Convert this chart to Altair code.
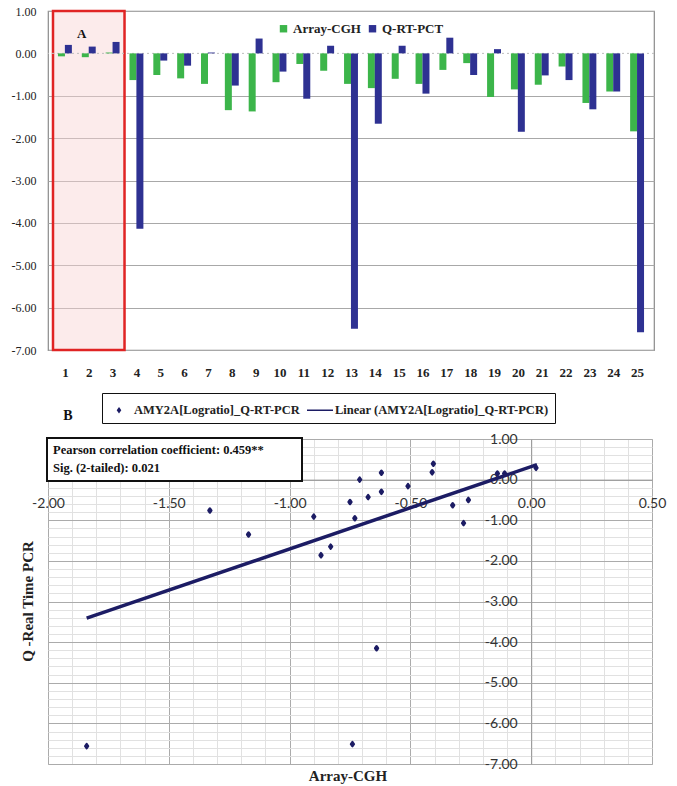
import altair as alt
import pandas as pd

# ---------------- Panel A data ----------------
samples = list(range(1, 26))
array_cgh = [-0.07, -0.09, 0.02, -0.63, -0.51, -0.59, -0.72, -1.34, -1.37, -0.68,
             -0.25, -0.41, -0.72, -0.82, -0.60, -0.72, -0.39, -0.23, -1.03, -0.85,
             -0.74, -0.31, -1.17, -0.90, -1.84]
q_rt_pct = [0.20, 0.16, 0.27, -4.14, -0.17, -0.29, 0.02, -0.76, 0.35, -0.43,
            -1.07, 0.18, -6.50, -1.66, 0.18, -0.95, 0.37, -0.51, 0.10, -1.85,
            -0.52, -0.63, -1.32, -0.90, -6.58]
series_names = ["Array-CGH", "Q-RT-PCT"]
highlight_start = [0.5]
highlight_end = [3.5]
y_ticks_a = [-7, -6, -5, -4, -3, -2, -1, 0, 1]

# ---------------- Panel B data ----------------
scatter_cgh = [-1.33, -1.17, -0.90, -0.87, -0.83, -0.75, -0.73, -0.71, -0.675, -0.62,
               -0.62, -0.51, -0.405, -0.41, -0.325, -0.26, -0.28, -0.14, -0.11, 0.02,
               -1.84, -0.74, -0.64]
scatter_pcr = [-0.76, -1.35, -0.91, -1.86, -1.65, -0.55, -0.95, 0.00, -0.43, 0.17,
               -0.30, -0.16, 0.39, 0.18, -0.63, -0.50, -1.07, 0.15, 0.15, 0.29,
               -6.56, -6.51, -4.15]
trend_cgh = [-1.84, 0.024]
trend_pcr = [-3.41, 0.37]
legend_names = ["AMY2A[Logratio]_Q-RT-PCR", "Linear (AMY2A[Logratio]_Q-RT-PCR)"]
x_ticks_b = [-2.0, -1.5, -1.0, -0.5, 0.0, 0.5]
y_ticks_b = [-7, -6, -5, -4, -3, -2, -1, 0, 1]
minor_x_b = [round(-2 + 0.1 * i, 1) for i in range(26)]
minor_y_b = [round(-7 + 0.2 * i, 1) for i in range(41)]
stats_text = ["Pearson correlation coefficient: 0.459**", "Sig. (2-tailed): 0.021"]

# ---------------- styles ----------------
GREEN = "#3cb54a"
BLUE = "#2e3192"
NAVY = "#1c1c64"
SERIF = "Liberation Serif"
SANS = "Lato"
MINUS_FIX = "replace(format(datum.value, '.2f'), '\u2212', '-')"

W1, H1 = 606, 339
W2, H2 = 604, 325

# ================= Panel A =================
xs1 = alt.Scale(domain=[0.5, 25.5], nice=False, zero=False)
ys1 = alt.Scale(domain=[-7, 1], nice=False, zero=False)

x_axis_a = alt.Axis(
    values=samples, format="d", labelAngle=0, grid=False, domain=False,
    ticks=False, tickSize=0, labelPadding=16, labelFont=SERIF, labelFlush=False,
    labelFontSize=13, labelFontWeight="bold", labelColor="#222", title=None)
y_axis_a = alt.Axis(
    values=y_ticks_a, labelExpr=MINUS_FIX, grid=True,
    gridColor={"condition": {"test": "datum.value === 0", "value": "rgba(0,0,0,0)"},
               "value": "#a8a8a8"},
    domain=False, ticks=False, tickSize=0, labelPadding=12, labelFont=SERIF,
    labelFontSize=12, labelColor="#222", title=None)

bars_df = pd.DataFrame({
    "sample": samples * 2,
    "series": [series_names[0]] * 25 + [series_names[1]] * 25,
    "value": array_cgh + q_rt_pct,
})
box_df = pd.DataFrame({"x0": highlight_start, "x1": highlight_end,
                       "y0": [max(y_ticks_a)], "y1": [min(y_ticks_a)]})

box = alt.Chart(box_df).mark_rect(
    fill="#f9d2d2", fillOpacity=0.45, stroke="#e02424", strokeWidth=2.5
).encode(
    x=alt.X("x0:Q", scale=xs1, axis=x_axis_a),
    x2="x1:Q",
    y=alt.Y("y0:Q", scale=ys1, axis=y_axis_a),
    y2="y1:Q",
)

zero_df = pd.DataFrame({"z": [0]})
zero_rule = alt.Chart(zero_df).mark_rule(color="#bdbdbd", strokeDash=[2, 3], strokeWidth=1).encode(
    y=alt.Y("z:Q", scale=ys1, axis=y_axis_a),
)

bars = alt.Chart(bars_df).transform_calculate(
    pos="datum.sample + (datum.series == 'Array-CGH' ? -0.145 : 0.145)"
).mark_bar(width=7).encode(
    x=alt.X("pos:Q", scale=xs1, axis=x_axis_a),
    y=alt.Y("value:Q", scale=ys1, axis=y_axis_a),
    color=alt.Color("series:N", scale=alt.Scale(domain=series_names, range=[GREEN, BLUE]),
                    legend=alt.Legend(orient="none", legendX=229, legendY=11,
                                      direction="horizontal", title=None,
                                      symbolType="square", symbolSize=55,
                                      symbolStrokeWidth=0, padding=0,
                                      labelFont=SERIF, labelFontSize=13,
                                      labelFontWeight="bold", labelColor="#222",
                                      columnPadding=5, labelOffset=3)),
)

a_df = pd.DataFrame({"x": [1.7], "y": [0.46], "t": ["A"]})
a_text = alt.Chart(a_df).mark_text(font=SERIF, fontSize=13, fontWeight="bold",
                                   color="#111").encode(
    x=alt.X("x:Q", scale=xs1, axis=x_axis_a),
    y=alt.Y("y:Q", scale=ys1, axis=y_axis_a),
    text="t:N",
)

top = alt.layer(box, zero_rule, bars, a_text).properties(
    width=W1, height=H1, view=alt.ViewBackground(stroke="#8a8a8a", strokeWidth=1.2))

# ================= Panel B =================
xs2 = alt.Scale(domain=[-2, 0.5], nice=False, zero=False)
ys2 = alt.Scale(domain=[-7, 1], nice=False, zero=False)

pts_df = pd.DataFrame({"cgh": scatter_cgh, "pcr": scatter_pcr,
                       "s": [legend_names[0]] * len(scatter_cgh)})
trend_df = pd.DataFrame({"tx": trend_cgh, "ty": trend_pcr})

grid_layer = alt.Chart(pts_df).mark_point(opacity=0).encode(
    x=alt.X("cgh:Q", scale=xs2, axis=alt.Axis(
        orient="bottom", values=minor_x_b, grid=True, labels=False, ticks=False,
        domain=False, title=None,
        gridColor={"condition": {"test": "abs(round(datum.value*10)) % 5 === 0",
                                 "value": "#ababab"}, "value": "#e1e1e1"})),
    y=alt.Y("pcr:Q", scale=ys2, axis=alt.Axis(
        orient="left", values=minor_y_b, grid=True, labels=False, ticks=False,
        domain=False, title=None,
        gridColor={"condition": {"test": "abs(round(datum.value*5)) % 5 === 0",
                                 "value": "#ababab"}, "value": "#e1e1e1"})),
)

x_axis_offset = -(0 - ys2.domain[0]) / (ys2.domain[1] - ys2.domain[0]) * H2
y_axis_offset = -(0 - xs2.domain[0]) / (xs2.domain[1] - xs2.domain[0]) * W2

DIAMOND = "M0,-0.2L0.14,0L0,0.2L-0.14,0Z"
LINE_SYM = "M-1.3,0L1.3,0"

points = alt.Chart(pts_df).mark_point(
    filled=False, fill=NAVY, fillOpacity=1, stroke=NAVY, strokeWidth=2.5,
    strokeJoin="round", size=400, opacity=1
).encode(
    x=alt.X("cgh:Q", scale=xs2, axis=alt.Axis(
        orient="bottom", offset=x_axis_offset, values=x_ticks_b, labelExpr=MINUS_FIX,
        grid=False, ticks=False, tickSize=0, domain=True, domainColor="#9a9a9a",
        labelFlush=False, labelOverlap=False,
        labelPadding=17, labelFont=SANS, labelFontSize=14, labelColor="#333",
        title=None)),
    y=alt.Y("pcr:Q", scale=ys2, axis=alt.Axis(
        orient="left", offset=y_axis_offset, values=y_ticks_b, labelExpr=MINUS_FIX,
        grid=False, ticks=False, tickSize=0, domain=True, domainColor="#9a9a9a",
        labelFlush=False, labelOverlap=False,
        labelPadding=14, labelFont=SANS, labelFontSize=14, labelColor="#333",
        title=None)),
    shape=alt.Shape("s:N", scale=alt.Scale(domain=legend_names, range=[DIAMOND, LINE_SYM]),
                    legend=alt.Legend(orient="none", legendX=54, legendY=-46,
                                      direction="horizontal", title=None,
                                      strokeColor="#111", padding=6,
                                      symbolSize=400,
                                      labelFont=SERIF, labelFontSize=12.5,
                                      labelFontWeight="bold", labelColor="#222",
                                      labelLimit=500, columnPadding=4, labelOffset=4)),
)

trend = alt.Chart(trend_df).mark_line(color=NAVY, strokeWidth=3.5).encode(
    x=alt.X("tx:Q", scale=xs2, axis=None),
    y=alt.Y("ty:Q", scale=ys2, axis=None),
)

ann_df = pd.DataFrame({"l1": [stats_text[0]], "l2": [stats_text[1]]})
stat_box = alt.Chart(ann_df).mark_rect(fill="white", stroke="#111", strokeWidth=2).encode(
    x=alt.value(-1), x2=alt.value(254), y=alt.value(-1), y2=alt.value(42))
stat_l1 = alt.Chart(ann_df).mark_text(align="left", baseline="middle", font=SERIF,
                                      fontSize=12.5, fontWeight="bold", color="#111").encode(
    x=alt.value(5), y=alt.value(11), text="l1:N")
stat_l2 = alt.Chart(ann_df).mark_text(align="left", baseline="middle", font=SERIF,
                                      fontSize=12.5, fontWeight="bold", color="#111").encode(
    x=alt.value(5), y=alt.value(29), text="l2:N")
b_label = alt.Chart(ann_df).mark_text(font=SERIF, fontSize=14, fontWeight="bold",
                                      color="#111").encode(
    x=alt.value(20), y=alt.value(-23), text=alt.value("B"))
y_title = alt.Chart(ann_df).mark_text(font=SERIF, fontSize=15, fontWeight="bold",
                                      color="#222", angle=270).encode(
    x=alt.value(-20), y=alt.value(H2 / 2), text=alt.value("Q -Real Time PCR"))
x_title = alt.Chart(ann_df).mark_text(font=SERIF, fontSize=15, fontWeight="bold",
                                      color="#222").encode(
    x=alt.value(W2 / 2 - 2), y=alt.value(H2 + 12), text=alt.value("Array-CGH"))

bottom = alt.layer(grid_layer, points, trend, stat_box, stat_l1, stat_l2,
                   b_label, y_title, x_title).resolve_axis(
    x="independent", y="independent").properties(
    width=W2, height=H2, view=alt.ViewBackground(stroke="#c4c4c4", strokeWidth=1))

chart = alt.vconcat(top, bottom, spacing=89, bounds="flush").resolve_scale(
    x="independent", y="independent", color="independent", shape="independent"
).configure(
    padding={"left": 10, "top": 4, "right": 0, "bottom": 0},
    background="white",
)

chart.save("out.html", embed_options={"renderer": "svg", "actions": False})
